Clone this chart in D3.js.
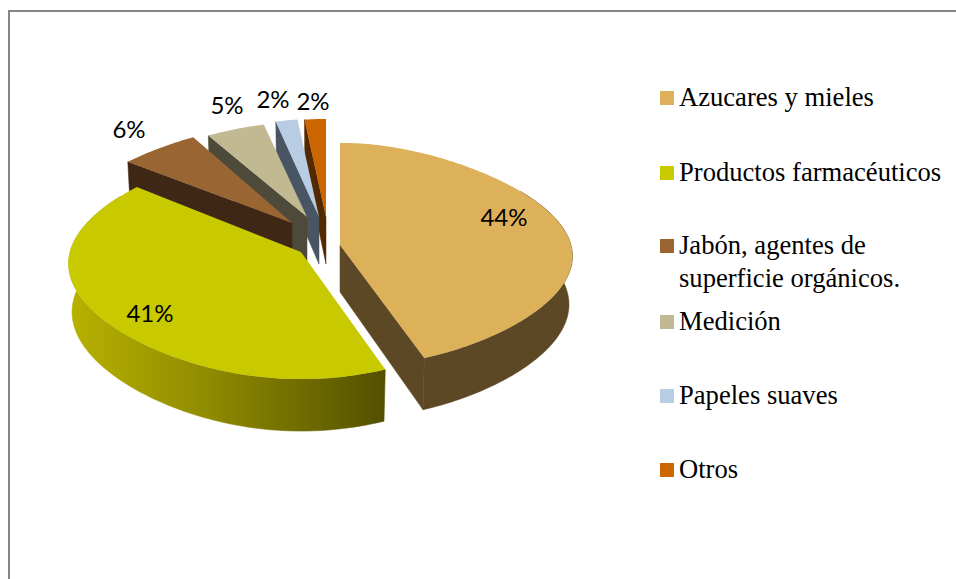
<!DOCTYPE html>
<html><head><meta charset="utf-8">
<script src="https://cdn.jsdelivr.net/npm/d3@7"></script>
<style>html,body{margin:0;padding:0;background:#fff;overflow:hidden}svg{display:block}</style>
</head><body><svg id="c" width="956" height="579"></svg>
<script>
const categories = ["Azucares y mieles","Productos farmacéuticos","Jabón, agentes de|superficie orgánicos.","Medición","Papeles suaves","Otros"];
const values = [44,41,6,5,2,2];
const labels = ["44%","41%","6%","5%","2%","2%"];
const topColors = ["#DDB05A","#C9C900","#996633","#C0B991","#B8CCE4","#CC6600"];
const wallColors = ["#5C4825","#5C5C00","#3E2714","#4E4A39","#4A5563","#522900"];

// layout of the exploded pseudo-3D pie
const apexX = [340,301,292,307,319,326];
const apexY = [245,252,223,217,217,217];
const depthScale = [1.02,1.06,1,0.95,0.98,0.98];
const wallSide = ["end",null,"start","start","start","start"];
const labelX = [504,150,129,227,273,313];
const labelY = [216,312,128,104,98,100];
const legendY = [98,173,246,322,396,470];

const svg = d3.select("#c");
const defs = svg.append("defs");
const grad = defs.append("linearGradient").attr("id","yg").attr("gradientUnits","userSpaceOnUse")
  .attr("x1",68).attr("x2",384).attr("y1",0).attr("y2",0);
grad.append("stop").attr("offset",0).attr("stop-color","#B8B200");
grad.append("stop").attr("offset",0.45).attr("stop-color","#8F8A00");
grad.append("stop").attr("offset",1).attr("stop-color","#545000");

// frame
svg.append("path").attr("d","M9,579V11H956").attr("fill","none").attr("stroke","#868686").attr("stroke-width",2);

const pie = d3.pie().sort(null).startAngle(0).endAngle(2*Math.PI)(values);
const sx = d3.scaleLinear().domain([-1,1]).range([-231,231]);
const sy = d3.scaleLinear().domain([-1,1]).range([-110,110]);
const line = d3.line();

function wallH(v){ return 48+4*v; }
function proj(i,th,bottom){
  const u=Math.sin(th), v=-Math.cos(th);
  const xs = u*(1+0.13*v-(v<0?0.13:0.15)*v*v);
  const ys = v+0.09*v*v;
  const x = sx(xs)*(bottom?0.985:1);
  const y = sy(ys)*depthScale[i] + (bottom?wallH(v):0);
  return [apexX[i]+x, apexY[i]+y];
}
function arcPts(i,a0,a1,bottom){
  const n=Math.max(2,Math.ceil(Math.abs(a1-a0)/0.02));
  return d3.range(n+1).map(k=>proj(i,a0+(a1-a0)*k/n,bottom));
}
// Paint back to front
const order=[5,4,3,2,1,0];
const bandFrom=Math.PI/3, bandTo=5*Math.PI/3;
order.forEach(i=>{
  const d=pie[i], g=svg.append("g");
  const ax=apexX[i], ay=apexY[i];
  const a=[ax,ay], ab=[ax,ay+47];
  // outer band, only where it faces the viewer
  if(i<2){
    const a0=Math.max(d.startAngle,bandFrom), a1=Math.min(d.endAngle,bandTo);
    const top=arcPts(i,a0,a1,false);
    const bot=arcPts(i,a0,a1,true).reverse();
    const f=i===1?"url(#yg)":wallColors[i];
    g.append("path").attr("d",line(top.concat(bot))+"Z").attr("fill",f).attr("stroke",f).attr("stroke-width",0.5);
  }
  // radial wall
  if(wallSide[i]){
    const th=wallSide[i]==="end"?d.endAngle:d.startAngle;
    g.append("path").attr("d",line([a,proj(i,th,false),proj(i,th,true),ab])+"Z")
      .attr("fill",wallColors[i]).attr("stroke",wallColors[i]).attr("stroke-width",0.5);
  }
  // top face
  g.append("path").attr("d",line([a].concat(arcPts(i,d.startAngle,d.endAngle,false)))+"Z").attr("fill",topColors[i]);
});

// value labels
svg.append("g").selectAll("text").data(labels).join("text")
  .attr("x",(d,i)=>labelX[i]).attr("y",(d,i)=>labelY[i])
  .attr("text-anchor","middle").attr("dominant-baseline","central")
  .attr("font-family","Lato, 'Open Sans', sans-serif").attr("font-size",24).attr("fill","#000").text(d=>d);

// legend
const lg=svg.append("g").selectAll("g").data(categories).join("g");
lg.append("rect").attr("x",660).attr("y",(d,i)=>legendY[i]-7).attr("width",14).attr("height",14).attr("fill",(d,i)=>topColors[i]);
lg.each(function(d,i){
  d.split("|").forEach((t,k)=>{
    d3.select(this).append("text").attr("x",679).attr("y",legendY[i]+8+k*33)
      .attr("font-family","'Liberation Serif', serif").attr("font-size",26.6).attr("fill","#000").text(t);
  });
});
</script></body></html>
